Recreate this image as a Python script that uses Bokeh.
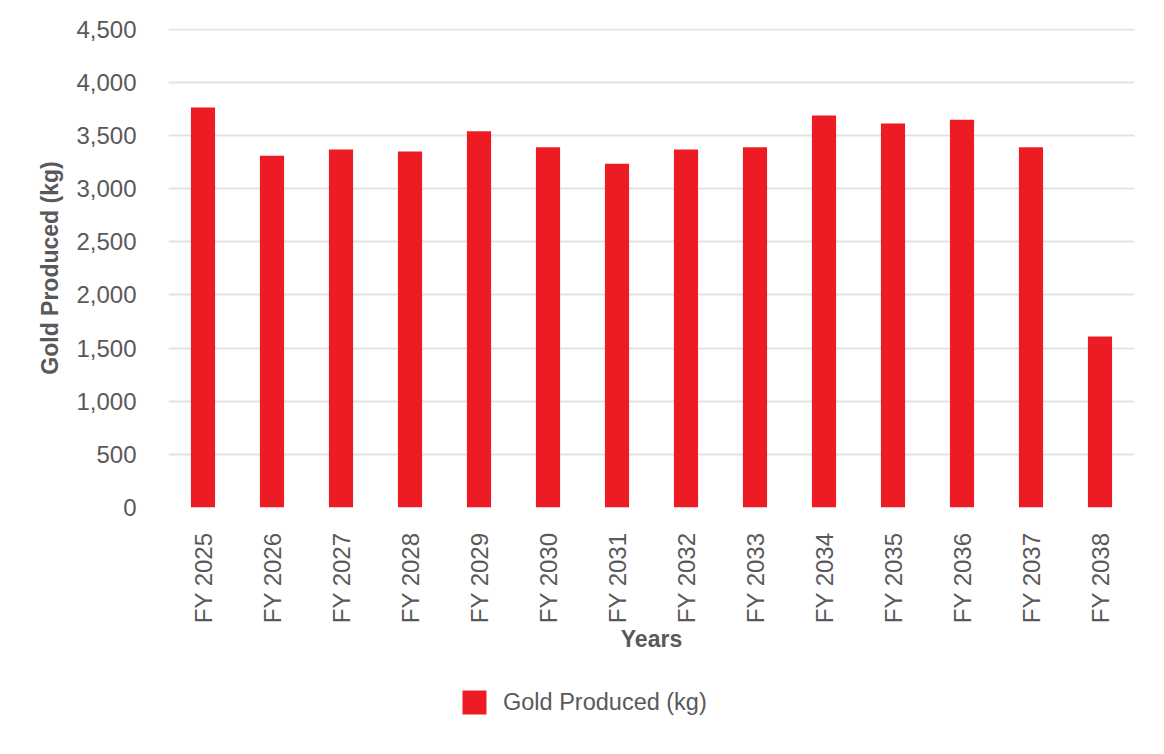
import math
from bokeh.plotting import figure
from bokeh.layouts import column
from bokeh.models import (ColumnDataSource, Legend, LegendItem, NumeralTickFormatter,
                          FixedTicker, Range1d, FactorRange)
from bokeh.embed import file_html
from bokeh.resources import INLINE

years = ["FY 2025", "FY 2026", "FY 2027", "FY 2028", "FY 2029", "FY 2030", "FY 2031",
         "FY 2032", "FY 2033", "FY 2034", "FY 2035", "FY 2036", "FY 2037", "FY 2038"]
gold_kg = [3765, 3310, 3370, 3350, 3540, 3390, 3235, 3370, 3390, 3690, 3615, 3650, 3390, 1610]
y_ticks = [0, 500, 1000, 1500, 2000, 2500, 3000, 3500, 4000, 4500]
series_name = "Gold Produced (kg)"

FONT = "Liberation Sans"
TXT = "#595959"
RED = "#ED1C24"

src = ColumnDataSource(dict(years=years, gold=gold_kg))

p = figure(x_range=FactorRange(*years, range_padding=0), y_range=Range1d(0, 4508),
           width=1148, height=680, output_backend="svg", toolbar_location=None,
           min_border_left=168, min_border_right=14, min_border_top=28, min_border_bottom=173)

r = p.vbar(x="years", top="gold", width=0.35, source=src, fill_color=RED, line_color=None)

p.outline_line_color = None
p.background_fill_color = "white"
p.border_fill_color = "white"

p.xgrid.grid_line_color = None
p.ygrid.grid_line_color = "#e3e3e3"
p.ygrid.grid_line_width = 2
p.yaxis.ticker = FixedTicker(ticks=y_ticks)
p.yaxis.formatter = NumeralTickFormatter(format="0,0")

for ax in (p.xaxis, p.yaxis):
    ax.axis_line_color = None
    ax.major_tick_line_color = None
    ax.minor_tick_line_color = None
    ax.major_tick_out = 0
    ax.major_tick_in = 0
    ax.major_label_text_font = FONT
    ax.major_label_text_font_size = "24px"
    ax.major_label_text_color = TXT
    ax.axis_label_text_font = FONT
    ax.axis_label_text_font_size = "23px"
    ax.axis_label_text_font_style = "bold"
    ax.axis_label_text_color = TXT

p.yaxis.axis_label = "Gold Produced (kg)"
p.yaxis.major_label_standoff = 32
p.yaxis.axis_label_standoff = 10

p.xaxis.axis_label = "Years"
p.xaxis.major_label_orientation = math.pi / 2
p.xaxis.major_label_standoff = 25
p.xaxis.axis_label_standoff = 0

# legend strip below the chart (same series, drawn outside its visible y-range)
p2 = figure(width=1148, height=50, output_backend="svg", toolbar_location=None,
            x_range=FactorRange(*years, range_padding=0), y_range=Range1d(10000, 10001),
            x_axis_type=None, y_axis_type=None, min_border=0)
p2.outline_line_color = None
p2.grid.grid_line_color = None
p2.border_fill_color = "white"
p2.background_fill_color = "white"
r2 = p2.vbar(x="years", top="gold", width=0.35, source=src, fill_color=RED, line_color=None)

legend = Legend(items=[LegendItem(label=series_name, renderers=[r2])],
                location=(291, 13), orientation="horizontal",
                glyph_width=30, glyph_height=30, label_standoff=14,
                label_text_font=FONT, label_text_font_size="23.5px", label_text_color=TXT,
                border_line_color=None, background_fill_alpha=0, padding=0, margin=0,
                label_height=30)
p2.add_layout(legend, "center")

layout = column(p, p2, spacing=0)
open("out.html", "w").write(file_html(layout, INLINE))
